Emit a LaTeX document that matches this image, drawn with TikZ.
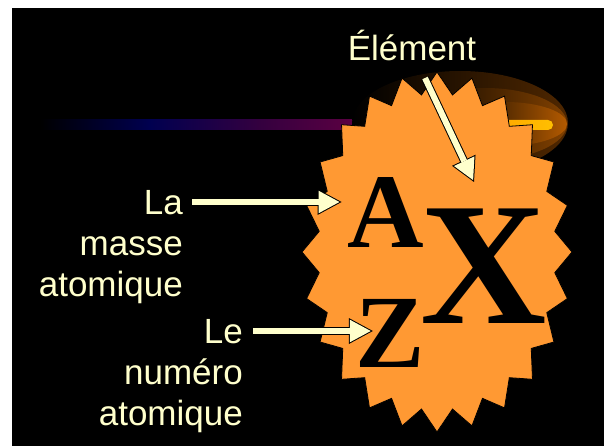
\documentclass[tikz,border=0pt]{standalone}
\usepackage{fontspec}
\setmainfont{Liberation Serif}
\setsansfont{Liberation Sans}
\usetikzlibrary{arrows.meta, calc}
\definecolor{cream}{HTML}{FFFFCC}
\definecolor{burstfill}{HTML}{FF9933}
\definecolor{tailnavy}{HTML}{000050}
\definecolor{tailpurple}{HTML}{34003F}
\definecolor{tailmagenta}{HTML}{5E0042}
\definecolor{glowa}{HTML}{4F2700}
\definecolor{glowb}{HTML}{824100}
\definecolor{glowc}{HTML}{B35A00}
\definecolor{coreorange}{HTML}{FF8C00}
\definecolor{coreyellow}{HTML}{FFBF00}
\newcommand{\lblfont}{\sffamily\fontsize{35}{41}\selectfont}
\tikzset{
  lbl/.style={text=cream, font=\lblfont, align=right, inner sep=0pt},
  sym/.style={text=black, inner sep=0pt},
  burst/.style={fill=burstfill, draw=black, line width=0.8pt, line join=miter},
  arrback/.style={draw=black, line width=8pt, -{Triangle[length=24pt, width=26pt, line width=0pt]}},
  arrfront/.style={draw=cream, line width=6pt, -{Triangle[length=20.9pt, width=22.6pt, line width=0pt]}}
}

\begin{document}
\begin{tikzpicture}[x=1pt, y=-1pt]

  \useasboundingbox (0,0) rectangle (604,446);
  \fill[white] (0,0) rectangle (604,446);
  \fill[black] (12,8) rectangle (604,446);

  % comet: tail, glow and core, all behind the burst
  \shade[left color=black, right color=tailnavy] (40,120) rectangle (150,130);
  \shade[left color=tailnavy, right color=tailpurple] (149.5,120) rectangle (260,130);
  \shade[left color=tailpurple, right color=tailmagenta] (259.5,120) rectangle (360,130);
  \shade[left color=tailmagenta, right color=coreorange] (359.5,120) rectangle (440,130);
  \shade[left color=black, middle color=glowa!80!black, right color=glowa] (460,123) ellipse [x radius=108, y radius=52];
  \shade[left color=black, middle color=glowb!80!black, right color=glowb] (485,124) ellipse [x radius=82, y radius=36];
  \shade[left color=black, middle color=glowc!80!black, right color=glowc] (505,124) ellipse [x radius=62, y radius=22];
  \shade[left color=coreorange, right color=coreyellow, rounded corners=5pt] (430,120) rectangle (553,130);

  \draw[burst] plot[samples at={0,...,47}]
    ({437+135*(1-0.12*mod(\x,2))*cos(90+7.5*\x)}, {252+180*(1-0.12*mod(\x,2))*sin(90+7.5*\x)}) -- cycle;

  \node[sym, anchor=base, font=\bfseries\fontsize{106}{106}\selectfont] (A) at (386,247) {A};
  \node[sym, anchor=base, font=\bfseries\fontsize{104}{104}\selectfont] (Z) at (390,367) {Z};
  \node[sym, anchor=base, font=\bfseries\fontsize{175}{175}\selectfont] (X) at (483.5,323) {X};

  % multi-line labels sit on the baseline of their last line
  \node[lbl, anchor=base] (el) at (412,61) {Élément};
  \node[lbl, anchor=base east] (masse) at (183,296) {La\\masse\\atomique};
  \node[lbl, anchor=base east] (numero) at (243,425) {Le\\numéro\\atomique};

  \coordinate (la) at (192,202);
  \coordinate (le) at (253,331);
  \coordinate (elfrom) at (425,78);
  \coordinate (elto) at (474,182);

  \draw[arrback, shorten >=6pt] (la) -- (la -| A.west);
  \draw[arrfront, shorten >=8.1pt] (la) -- (la -| A.west);
  \draw[arrback, shorten >=-17.7pt] (le) -- (le -| Z.west);
  \draw[arrfront, shorten >=-15.6pt] (le) -- (le -| Z.west);
  \draw[arrback] (elfrom) -- (elto);
  \draw[arrfront, shorten >=2.1pt] (elfrom) -- (elto);

\end{tikzpicture}
\end{document}
